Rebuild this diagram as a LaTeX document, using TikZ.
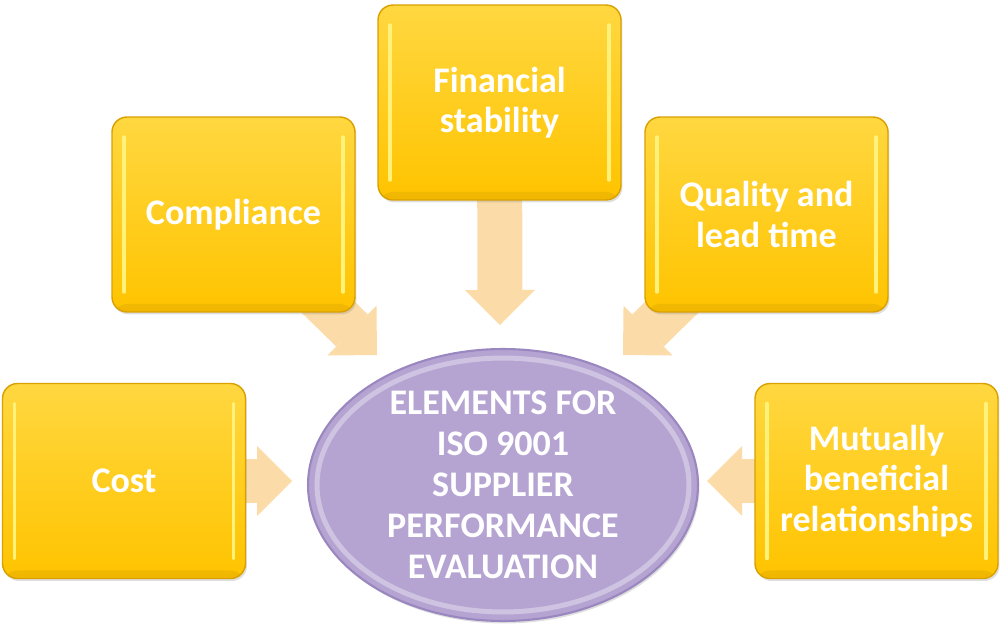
\documentclass[tikz,border=0pt]{standalone}
\usepackage{fontspec}
\setmainfont{Carlito}
\usetikzlibrary{arrows.meta,shadows,shapes.geometric}
\definecolor{boxtop}{HTML}{FFD740}
\definecolor{boxbot}{HTML}{FFC400}
\definecolor{boxedge}{HTML}{D9A000}
\definecolor{boxshine}{HTML}{FFF27A}
\definecolor{arrowc}{HTML}{FBDCA8}
\definecolor{ellfill}{HTML}{B5A4D2}
\definecolor{elledge}{HTML}{9A87C0}
\begin{document}
\begin{tikzpicture}[x=0.02cm,y=-0.02cm,
  elem/.style={rectangle, rounded corners=0.3cm, minimum width=4.86cm, minimum height=3.9cm,
    top color=boxtop, bottom color=boxbot, draw=boxedge, line width=0.8pt,
    text=white, font=\bfseries\fontsize{20.5}{23}\selectfont, align=center,
    drop shadow={opacity=0.25, shadow xshift=0.03cm, shadow yshift=-0.05cm},
    path picture={
      \draw[boxshine, line width=0.07cm, line cap=round]
        ([xshift=0.24cm,yshift=-0.4cm]path picture bounding box.north west) --
        ([xshift=0.24cm,yshift=0.4cm]path picture bounding box.south west);
      \draw[boxshine, line width=0.07cm, line cap=round]
        ([xshift=-0.24cm,yshift=-0.4cm]path picture bounding box.north east) --
        ([xshift=-0.24cm,yshift=0.4cm]path picture bounding box.south east);
      \fill[boxedge, opacity=0.35]
        ([yshift=0.16cm]path picture bounding box.south west) rectangle
        (path picture bounding box.south east);
    }},
  centre/.style={ellipse, minimum width=7.8cm, minimum height=5.44cm, inner sep=0pt,
    fill=ellfill, draw=elledge, line width=1.2pt,
    text=white, font=\bfseries\fontsize{20.5}{23.4}\selectfont, align=center,
    drop shadow={opacity=0.25, shadow xshift=0.03cm, shadow yshift=-0.05cm},
    path picture={
      \draw[white, opacity=0.35, line width=0.1cm]
        (path picture bounding box.center) ellipse (3.72cm and 2.54cm);
    }},
  flow/.style={draw=arrowc, line width=0.9cm,
    -{Triangle[width=1.4cm, length=0.7cm, line width=0pt]}}
]
\useasboundingbox (0,0) rectangle (1000,628);

% tips of the arrows
\coordinate (tF) at (500,325);
\coordinate (tC) at (377,355);
\coordinate (tQ) at (623,355);
\coordinate (tK) at (292,481);
\coordinate (tM) at (707,481);

% nodes placed first (names), drawn later on top of arrows
\path (499.5,102.5) coordinate (pF) (233.5,214.5) coordinate (pC)
      (766.5,214.5) coordinate (pQ) (124,481) coordinate (pK)
      (876.5,481) coordinate (pM);

\draw[flow] (pF) -- (tF);
\draw[flow] (pC) -- (tC);
\draw[flow] (pQ) -- (tQ);
\draw[flow] (pK) -- (tK);
\draw[flow] (pM) -- (tM);

\node[elem] (fin) at (pF) {Financial\\stability};
\node[elem] (comp) at (pC) {Compliance};
\node[elem] (qual) at (pQ) {Quality and\\lead time};
\node[elem] (cost) at (pK) {Cost};
\node[elem] (mut) at (pM) {Mutually\\beneficial\\relationships};

\node[centre] (core) at (503,485) {ELEMENTS FOR\\ISO 9001\\SUPPLIER\\PERFORMANCE\\EVALUATION};
\end{tikzpicture}
\end{document}
